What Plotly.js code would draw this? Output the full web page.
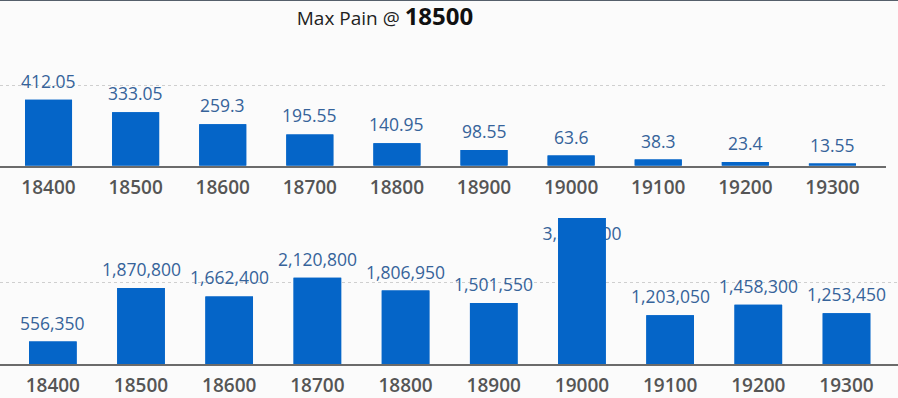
<!DOCTYPE html>
<html>
<head>
<meta charset="utf-8">
<script src="https://cdn.plot.ly/plotly-3.0.1.min.js"></script>
<style>
  html, body { margin: 0; padding: 0; background: #fbfbfb; }
  #chart { width: 898px; height: 398px; }
</style>
</head>
<body>
<div id="chart"></div>
<script>
// ---- data ----
const strikes = ["18400", "18500", "18600", "18700", "18800", "18900", "19000", "19100", "19200", "19300"];
const premiumValues = [412.05, 333.05, 259.3, 195.55, 140.95, 98.55, 63.6, 38.3, 23.4, 13.55];
const premiumLabels = ["412.05", "333.05", "259.3", "195.55", "140.95", "98.55", "63.6", "38.3", "23.4", "13.55"];
const oiValues = [556350, 1870800, 1662400, 2120800, 1806950, 1501550, 3586200, 1203050, 1458300, 1253450];
const oiLabels = oiValues.map(v => v.toLocaleString("en-US"));
const maxPainStrike = "18500";
const titlePrefix = "Max Pain @ ";

// ---- style ----
const barColor = "#0565c8";
const labelColor = "#36639a";
const tickColor = "#555555";
const axisLineColor = "#6b6b6b";
const labelFont = { family: "Open Sans, sans-serif", size: 17.5, color: labelColor };

const topRangeMax = 999;
const bottomRangeMax = 3999999;
// label fits above the bar when the bar leaves this much room (fraction of range)
function fitsAbove(v, max) { return v < max * 0.85; }

const traces = [];
const annotations = [];

function addPanel(values, labels, xa, ya, rangeMax) {
  const positions = values.map(v => fitsAbove(v, rangeMax) ? "none" : "inside");
  const insideText = labels.map((t, i) => positions[i] === "inside" ? t : "");
  // bars carrying the labels that don't fit (drawn first, so the bars cover them)
  traces.push({
    type: "bar", x: strikes, y: values, xaxis: xa, yaxis: ya,
    marker: { color: barColor }, text: insideText,
    textposition: "inside", insidetextanchor: "end", constraintext: "none",
    insidetextfont: Object.assign({}, labelFont), textangle: 0,
    hoverinfo: "skip", showlegend: false
  });
  // visible bars on top
  traces.push({
    type: "bar", x: strikes, y: values, xaxis: xa, yaxis: ya,
    marker: { color: barColor }, hoverinfo: "x+y", showlegend: false
  });
  values.forEach((v, i) => {
    if (positions[i] === "none") {
      annotations.push({
        xref: xa, yref: ya, x: i, y: v, text: labels[i],
        showarrow: false, yanchor: "bottom", yshift: 5, font: Object.assign({}, labelFont)
      });
    }
  });
}

addPanel(premiumValues, premiumLabels, "x", "y", topRangeMax);
addPanel(oiValues, oiLabels, "x2", "y2", bottomRangeMax);

const H = 398;
const xCommon = {
  type: "category", showline: true, linecolor: axisLineColor, linewidth: 2,
  ticks: "", showgrid: false, zeroline: false, fixedrange: true,
  tickfont: { family: "Open Sans, sans-serif", size: 19, color: tickColor, weight: 600 },
  ticklabelstandoff: 3
};
const yCommon = {
  showticklabels: false, showgrid: true, gridcolor: "#cfcfcf", griddash: "dot",
  gridwidth: 1, zeroline: false, showline: false, ticks: "", fixedrange: true
};

const layout = {
  width: 898, height: 398,
  margin: { l: 0, r: 0, t: 0, b: 0 },
  paper_bgcolor: "#fbfbfb", plot_bgcolor: "#fbfbfb",
  barmode: "overlay", bargap: 0.46,
  showlegend: false,
  title: {
    text: titlePrefix + '<span style="font-size:24px;font-weight:bold;color:#111">' + maxPainStrike + '</span>',
    font: { family: "Open Sans, sans-serif", size: 19, color: "#222" },
    x: 385 / 898, xanchor: "center", xref: "paper",
    y: 1 - 18 / H, yanchor: "middle", yref: "container"
  },
  xaxis: Object.assign({}, xCommon, { domain: [0, 886 / 898], range: [-0.557, 9.615], anchor: "y" }),
  yaxis: Object.assign({}, yCommon, { domain: [(H - 165.7) / H, (H - 5.7) / H], range: [0, topRangeMax], dtick: 500, anchor: "x" }),
  xaxis2: Object.assign({}, xCommon, { domain: [0, 1], range: [-0.599, 9.584], anchor: "y2" }),
  yaxis2: Object.assign({}, yCommon, { domain: [(H - 364.3) / H, (H - 201.1) / H], range: [0, bottomRangeMax], dtick: 2000000, anchor: "x2" }),
  annotations: annotations,
  shapes: [{ type: "line", xref: "paper", yref: "paper", x0: 0, x1: 1, y0: 1, y1: 1,
             line: { color: "#555f6b", width: 2 } }]
};

Plotly.newPlot("chart", traces, layout, { displayModeBar: false, staticPlot: true });
</script>
</body>
</html>
